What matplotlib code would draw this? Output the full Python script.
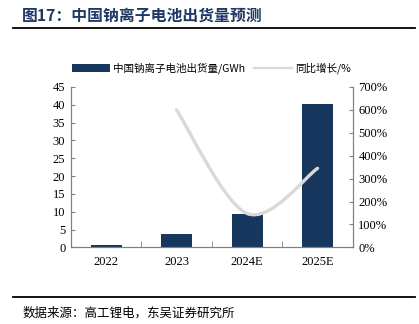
import matplotlib
matplotlib.use("Agg")
import matplotlib.pyplot as plt
import numpy as np
from matplotlib.path import Path
from matplotlib.patches import PathPatch, Patch
from matplotlib.lines import Line2D
from matplotlib.ticker import FuncFormatter, MultipleLocator

categories = ["2022", "2023", "2024E", "2025E"]
shipments = [0.8, 3.8, 9.4, 40.3]
growth_x = [1, 2, 3]
growth = [600, 148, 345]

plt.rcParams['font.family'] = ['Liberation Serif', 'Noto Sans CJK SC']

fig = plt.figure(figsize=(4.19, 3.24), dpi=100)
ax = fig.add_axes([0.169, 0.2365, 0.673, 0.495])
ax2 = ax.twinx()

navy = "#17375e"
x = np.arange(len(categories))
ax.bar(x, shipments, width=0.44, color=navy, zorder=2)
ax.set_xlim(-0.5, 3.5)
ax.set_ylim(0, 45)
ax.yaxis.set_major_locator(MultipleLocator(5))
ax.set_xticks(x)
ax.set_xticklabels(categories)
ax.set_xticks(np.arange(-0.5, 4.0, 1.0), minor=True)
ax.tick_params(axis='x', which='major', length=0, labelsize=9, pad=6)
ax.tick_params(axis='x', which='minor', direction='in', length=4, color='#808080')
ax.tick_params(axis='y', direction='in', length=3, color='#808080', labelsize=9, pad=4)

ax2.set_ylim(0, 700)
ax2.yaxis.set_major_locator(MultipleLocator(100))
ax2.yaxis.set_major_formatter(FuncFormatter(lambda v, p: f"{int(v)}%"))
ax2.tick_params(axis='y', direction='in', length=3, color='#808080', labelsize=9, pad=4)

for a in (ax, ax2):
    a.spines['top'].set_visible(False)
    for s in ('left', 'right', 'bottom'):
        a.spines[s].set_color('#808080')
        a.spines[s].set_linewidth(0.8)

# smooth (Catmull-Rom style Bezier) line through growth points
pts = np.column_stack([growth_x, growth]).astype(float)
n = len(pts)
verts = [pts[0]]
codes = [Path.MOVETO]
for i in range(n - 1):
    p0 = pts[max(i - 1, 0)]
    p1 = pts[i]
    p2 = pts[i + 1]
    p3 = pts[min(i + 2, n - 1)]
    c1 = p1 + (p2 - p0) / 6.0
    c2 = p2 - (p3 - p1) / 6.0
    verts += [c1, c2, p2]
    codes += [Path.CURVE4] * 3
path = Path(verts, codes)
ax2.add_patch(PathPatch(path, facecolor='none', edgecolor='#d9d9d9', lw=2.4,
                        capstyle='round', zorder=3))

handles = [Patch(facecolor=navy, edgecolor='none'),
           Line2D([0], [0], color='#d9d9d9', lw=1.6)]
labels = ["中国钠离子电池出货量/GWh", "同比增长/%"]
fig.legend(handles, labels, loc='center', bbox_to_anchor=(0.505, 0.789), ncol=2,
           frameon=False, prop={'family': ['Noto Sans CJK SC'], 'size': 7.6},
           handlelength=3.6, handleheight=0.8, columnspacing=0.8, handletextpad=0.3)

fig.text(0.053, 0.952, "图17：中国钠离子电池出货量预测", fontsize=11.4, fontweight='bold',
         color='#1f3864', family=['Noto Sans CJK SC'], va='center', ha='left')
fig.add_artist(Line2D([0.031, 0.99], [0.914, 0.914], color='black', lw=1.3))
fig.add_artist(Line2D([0.031, 0.99], [0.083, 0.083], color='black', lw=1.3))
fig.text(0.053, 0.033, "数据来源：高工锂电，东吴证券研究所", fontsize=9.0,
         color='black', family=['Noto Sans CJK SC'], va='center', ha='left')

fig.savefig("out.png", dpi=100)
